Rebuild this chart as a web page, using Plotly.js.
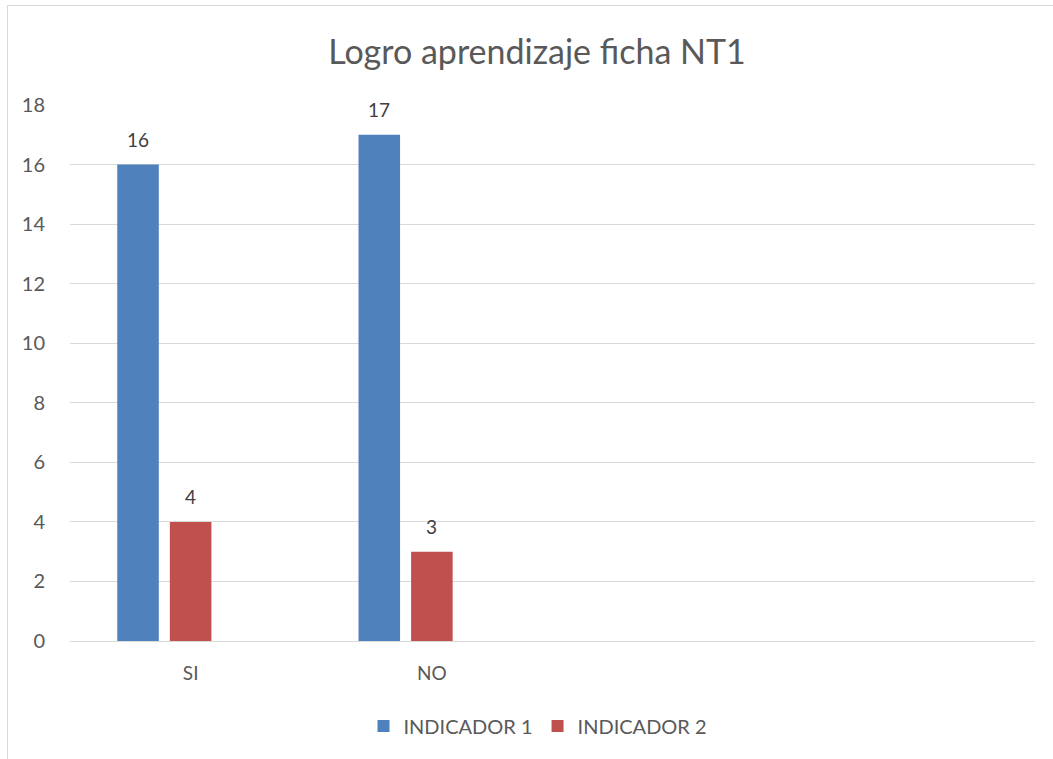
<!DOCTYPE html>
<html>
<head>
<meta charset="utf-8">
<script src="https://cdn.plot.ly/plotly-3.0.1.min.js"></script>
<style>
  html, body { margin: 0; padding: 0; background: #ffffff; overflow: hidden; }
  #frame { position: absolute; left: 7px; top: 5px; width: 1200px; height: 900px; border: 1px solid #d9d9d9; box-sizing: border-box; }
  #chart { position: absolute; left: 0; top: 0; width: 1053px; height: 759px; }
</style>
</head>
<body>
<div id="frame"></div>
<div id="chart"></div>
<script>
const categories = ['SI', 'NO'];
const seriesNames = ['INDICADOR 1', 'INDICADOR 2'];
const indicador1 = [16, 17];
const indicador2 = [4, 3];
const emptySeries = [null, null];
const yTicks = [0, 2, 4, 6, 8, 10, 12, 14, 16, 18];

const FONT = 'Lato, "Open Sans", sans-serif';
const colors = ['#4f81bd', '#c0504d'];

const traces = [
  { type: 'bar', name: seriesNames[0], x: categories, y: indicador1, marker: { color: colors[0] }, hoverinfo: 'y' },
  { type: 'bar', name: seriesNames[1], x: categories, y: indicador2, marker: { color: colors[1] }, hoverinfo: 'y' },
  { type: 'bar', name: 'serie 3', x: categories, y: emptySeries, showlegend: false, hoverinfo: 'skip' }
];

const annotations = [];
[indicador1, indicador2].forEach(function (vals, s) {
  vals.forEach(function (v, i) {
    annotations.push({
      x: categories[i], y: v, xref: 'x', yref: 'y',
      text: String(v), showarrow: false,
      xshift: s === 0 ? -53 : 0, yshift: 12, yanchor: 'bottom',
      font: { family: FONT, size: 19, color: '#404040' }
    });
  });
});

const layout = {
  width: 1053, height: 759,
  paper_bgcolor: 'rgba(0,0,0,0)', plot_bgcolor: 'rgba(0,0,0,0)',
  margin: { l: 70, r: 18, t: 105, b: 118 },
  title: {
    text: 'Logro aprendizaje ficha NT1',
    x: 537 / 1053, xref: 'container', xanchor: 'center',
    y: 1 - 52 / 759, yref: 'container', yanchor: 'middle',
    font: { family: FONT, size: 34, color: '#595959' }
  },
  barmode: 'group', bargap: 0.346, bargroupgap: 0.21,
  xaxis: {
    type: 'category', range: [-0.5, 3.5],
    showgrid: false, showline: false, zeroline: false,
    ticks: 'outside', ticklen: 15, tickcolor: 'rgba(0,0,0,0)',
    tickfont: { family: FONT, size: 19, color: '#595959' }
  },
  yaxis: {
    range: [0, 18], tickvals: yTicks, showgrid: true, gridcolor: '#d9d9d9', gridwidth: 1,
    zeroline: true, zerolinecolor: '#d9d9d9', zerolinewidth: 1, showline: false,
    ticks: 'outside', ticklen: 20, tickcolor: 'rgba(0,0,0,0)',
    tickfont: { family: FONT, size: 20, color: '#595959' }
  },
  legend: {
    orientation: 'h', x: (538 - 70) / 965, xanchor: 'center',
    y: (641 - 726) / 536, yanchor: 'middle',
    font: { family: FONT, size: 20, color: '#595959' },
    itemwidth: 30, tracegroupgap: 0
  },
  annotations: annotations,
  showlegend: true
};

Plotly.newPlot('chart', traces, layout, { displayModeBar: false, staticPlot: true });
</script>
</body>
</html>
